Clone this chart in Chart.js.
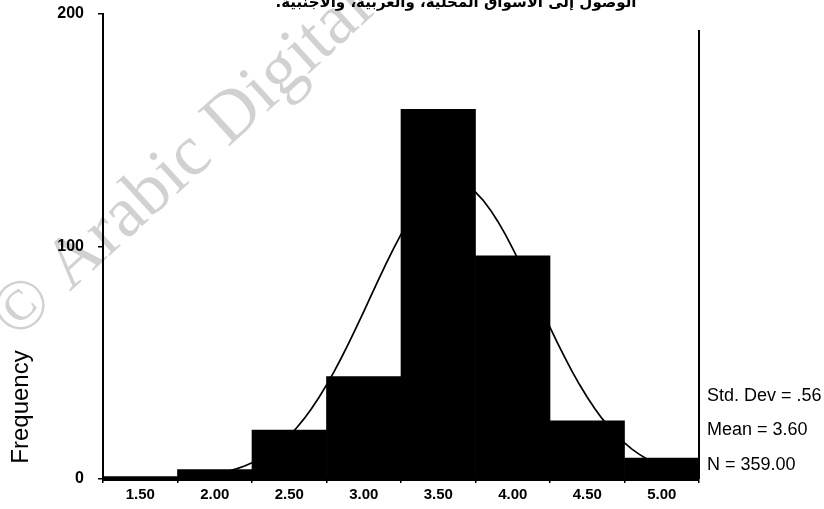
<!DOCTYPE html>
<html>
<head>
<meta charset="utf-8">
<script src="https://cdn.jsdelivr.net/npm/chart.js@4.4.0/dist/chart.umd.min.js"></script>
<style>
  html, body { margin: 0; padding: 0; background: #fff; }
  #wrap { width: 824px; height: 509px; }
</style>
</head>
<body>
<div id="wrap"><canvas id="c" width="824" height="509"></canvas></div>
<script>
// Histogram bins (centre of each 0.5-wide bin) and their counts
const BIN_CENTERS = [1.5, 2.0, 2.5, 3.0, 3.5, 4.0, 4.5, 5.0];
const FREQUENCIES = [1, 4, 21, 44, 159, 96, 25, 9];
const BIN_WIDTH = 0.5;

// Axis ticks
const X_TICKS = [1.5, 2.0, 2.5, 3.0, 3.5, 4.0, 4.5, 5.0];
const Y_TICKS = [0, 100, 200];

// Summary statistics printed beside the plot
const STD_DEV = 0.56;
const MEAN = 3.60;
const N = 359;

const TITLE = 'الوصول إلى الأسواق المحلية، والعربية، والأجنبية.';
const Y_LABEL = 'Frequency';
const WATERMARK = '© Arabic Digital';

// Fitted normal curve, scaled to counts per bin
const curve = [];
for (let i = 0; i <= 80; i++) {
  const x = 1.25 + i * 0.05;
  const z = (x - MEAN) / STD_DEV;
  curve.push({ x, y: N * BIN_WIDTH / (STD_DEV * Math.sqrt(2 * Math.PI)) * Math.exp(-0.5 * z * z) });
}

const decorations = {
  id: 'decorations',
  beforeDraw(chart) {
    const c = chart.ctx;
    c.save();
    c.fillStyle = '#fff';
    c.fillRect(0, 0, chart.width, chart.height);
    // faint diagonal watermark
    c.translate(183, 163);
    c.rotate(-0.74);
    c.font = '72px "Liberation Serif", "DejaVu Serif", serif';
    c.fillStyle = 'rgba(0,0,0,0.18)';
    c.textAlign = 'center';
    c.textBaseline = 'middle';
    c.fillText(WATERMARK, 0, 0);
    c.restore();
  },
  afterDraw(chart) {
    const c = chart.ctx;
    const a = chart.chartArea;
    c.save();
    // right frame line
    c.strokeStyle = '#000';
    c.lineWidth = 2;
    c.beginPath();
    c.moveTo(a.right, a.top + 16);
    c.lineTo(a.right, a.bottom);
    c.stroke();

    // title along the top edge
    c.fillStyle = '#000';
    c.font = 'bold 15px "DejaVu Sans", sans-serif';
    c.textAlign = 'center';
    c.textBaseline = 'alphabetic';
    c.direction = 'rtl';
    c.fillText(TITLE, 456, 7);
    c.direction = 'ltr';

    // statistics block
    c.font = '18px "Liberation Sans", Arial, sans-serif';
    c.textAlign = 'left';
    c.textBaseline = 'middle';
    const sx = a.right + 8;
    c.fillText('Std. Dev = ' + STD_DEV.toFixed(2).replace(/^0/, ''), sx, a.bottom - 83);
    c.fillText('Mean = ' + MEAN.toFixed(2), sx, a.bottom - 49);
    c.fillText('N = ' + N.toFixed(2), sx, a.bottom - 14);

    // rotated axis label
    c.translate(21, 407);
    c.rotate(-Math.PI / 2);
    c.font = '24px "Liberation Sans", Arial, sans-serif';
    c.textAlign = 'center';
    c.fillText(Y_LABEL, 0, 0);
    c.restore();
  }
};

new Chart(document.getElementById('c'), {
  data: {
    datasets: [
      {
        type: 'bar',
        data: BIN_CENTERS.map((x, i) => ({ x, y: FREQUENCIES[i] })),
        backgroundColor: '#000',
        borderColor: '#000',
        borderWidth: 0,
        barPercentage: 1,
        categoryPercentage: 1,
        order: 0
      },
      {
        type: 'line',
        data: curve,
        borderColor: '#000',
        borderWidth: 1.7,
        pointRadius: 0,
        tension: 0,
        fill: false,
        order: 1
      }
    ]
  },
  options: {
    responsive: false,
    animation: false,
    layout: { padding: { left: 0, top: 14, right: 125, bottom: 0 } },
    plugins: { legend: { display: false }, tooltip: { enabled: false } },
    scales: {
      x: {
        type: 'linear',
        min: 1.25,
        max: 5.25,
        offset: false,
        grid: { drawOnChartArea: false, tickLength: 4, color: '#000', lineWidth: 1.5 },
        border: { color: '#000', width: 3 },
        ticks: {
          color: '#000',
          padding: 3,
          maxRotation: 0,
          font: { family: '"Liberation Sans", Arial, sans-serif', size: 15, weight: 'bold' },
          callback: v => Number(v).toFixed(2)
        },
        afterBuildTicks(s) { s.ticks = X_TICKS.map(v => ({ value: v })); },
        afterFit(s) { s.height = 30; s.paddingLeft = 0; s.paddingRight = 0; }
      },
      y: {
        min: 0,
        max: 200,
        grid: { drawOnChartArea: false, tickLength: 5, color: '#000', lineWidth: 1.5 },
        border: { color: '#000', width: 2 },
        ticks: {
          color: '#000',
          padding: 14,
          font: { family: '"Liberation Sans", Arial, sans-serif', size: 16, weight: 'bold' }
        },
        afterBuildTicks(s) { s.ticks = Y_TICKS.map(v => ({ value: v })); },
        afterFit(s) { s.width = 103; s.paddingTop = 0; s.paddingBottom = 0; }
      }
    }
  },
  plugins: [decorations]
});
</script>
</body>
</html>
